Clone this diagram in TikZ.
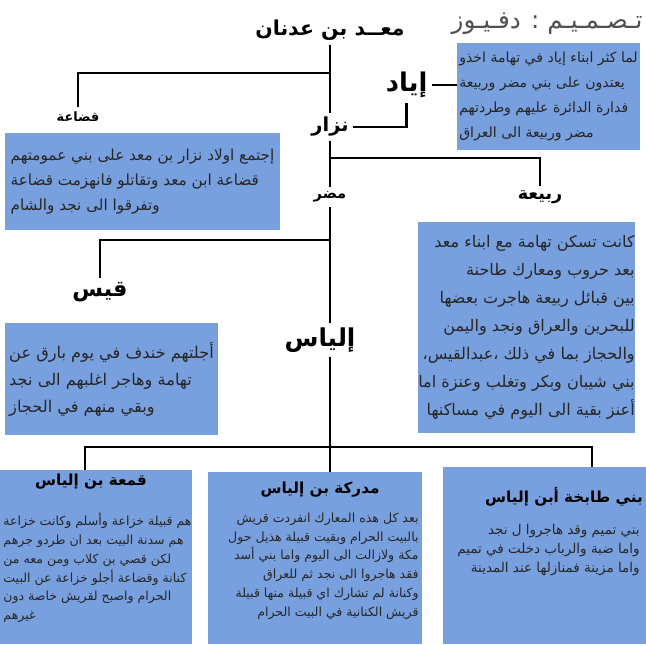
\documentclass[tikz,border=0pt]{standalone}
\usepackage{fontspec}
\newfontfamily\arabicfont[Script=Arabic]{DejaVu Sans}
\TeXXeTstate=1
\newcommand{\arl}[1]{\beginR #1\endR}
\definecolor{boxblue}{HTML}{78A0DE}
\definecolor{creditgray}{HTML}{505050}

\begin{document}
\begin{tikzpicture}[
  famline/.style={line width=2.4pt},
  kin/.style={font=\arabicfont\bfseries\fontsize{13}{15}\selectfont,inner sep=1pt,outer sep=3pt},
  kinbig/.style={kin,font=\arabicfont\bfseries\fontsize{21}{23}\selectfont},
  infobox/.style={fill=boxblue,align=left,inner sep=0pt,text=black!85,
    font=\arabicfont\fontsize{13}{21.3}\selectfont},
  tribebox/.style={fill=boxblue,inner sep=0pt},
  tribehead/.style={font=\arabicfont\bfseries\fontsize{13}{15}\selectfont,inner sep=1pt},
  tribetext/.style={inner sep=1pt,text=black!85,font=\arabicfont\fontsize{10.7}{16}\selectfont}
]
\useasboundingbox (0,0) rectangle (19.38,-19.32);

\node[kinbig,font=\arabicfont\bfseries\fontsize{17.5}{20}\selectfont] (maad) at (9.9,-0.9) {\arl{معــد بن عدنان}};
\node[font=\arabicfont\fontsize{21}{23}\selectfont,text=creditgray] (credit) at (16.41,-0.72)
  {\arl{تـصـمـيـم : دفـيـوز}};

\node[kin,font=\arabicfont\bfseries\fontsize{11}{13}\selectfont] (quda) at (2.34,-3.51) {\arl{قضاعة}};
\node[kin,font=\arabicfont\bfseries\fontsize{16.5}{18}\selectfont] (nizar) at (9.9,-3.81) {\arl{نزار}};
\node[kinbig,font=\arabicfont\bfseries\fontsize{22}{24}\selectfont] (iyad) at (12.2,-2.55) {\arl{إياد}};
\node[kin,font=\arabicfont\bfseries\fontsize{12.5}{14}\selectfont] (mudar) at (9.9,-5.91) {\arl{مضر}};
\node[kin,font=\arabicfont\bfseries\fontsize{15}{17}\selectfont] (rabia) at (16.2,-5.91) {\arl{ربيعة}};
\node[kinbig,font=\arabicfont\bfseries\fontsize{19}{21}\selectfont] (qays) at (3.0,-8.76) {\arl{قيس}};
\node[kinbig] (ilyas) at (9.6,-10.2) {\arl{إلياس}};

\node[infobox,minimum width=5.49cm,minimum height=3.21cm,
  font=\arabicfont\fontsize{12}{21.3}\selectfont] (iyadbox) at (16.455,-2.895)
  {\arl{لما كثر ابناء إياد في تهامة اخذو}\\
   \arl{يعتدون على بني مضر وربيعة}\\
   \arl{فدارة الدائرة عليهم وطردتهم}\\
   \arl{مضر وربيعة الى العراق}};
\node[infobox,minimum width=8.25cm,minimum height=2.91cm] (qudabox) at (4.275,-5.445)
  {\arl{إجتمع اولاد نزار بن معد على بني عمومتهم}\\
   \arl{قضاعة ابن معد وتقاتلو فانهزمت قضاعة}\\
   \arl{وتفرقوا الى نجد والشام}};
\node[infobox,align=right,minimum width=6.39cm,minimum height=6.33cm,
  font=\arabicfont\fontsize{13.7}{24}\selectfont] (rabiabox) at (15.795,-9.825)
  {\arl{كانت تسكن تهامة مع ابناء معد}\\
   \arl{بعد حروب ومعارك طاحنة}\\
   \arl{بين قبائل ربيعة هاجرت بعضها}\\
   \arl{للبحرين والعراق ونجد واليمن}\\
   \arl{والحجاز بما في ذلك ،عبدالقيس،}\\
   \arl{بني شيبان وبكر وتغلب وعنزة اما}\\
   \arl{أعنز بقية الى اليوم في مساكنها}};
\node[infobox,minimum width=6.39cm,minimum height=3.36cm,
  font=\arabicfont\fontsize{13.8}{23}\selectfont] (qaysbox) at (3.345,-11.37)
  {\arl{أجلتهم خندف في يوم بارق عن}\\
   \arl{تهامة وهاجر اغلبهم الى نجد}\\
   \arl{وبقي منهم في الحجاز}};

\node[tribebox,minimum width=5.76cm,minimum height=5.22cm] (qamaabox) at (2.88,-16.71) {};
\node[tribebox,minimum width=6.42cm,minimum height=5.16cm] (mudrikabox) at (9.45,-16.74) {};
\node[tribebox,minimum width=6.09cm,minimum height=5.31cm] (tabikhabox) at (16.335,-16.665) {};

\node[tribehead] (qamaahead) at (2.73,-14.46) {\arl{قمعة بن إلياس}};
\node[tribehead] (mudrikahead) at (9.6,-14.7) {\arl{مدركة بن إلياس}};
\node[tribehead] (tabikhahead) at (16.92,-14.91) {\arl{بني طابخة أبن إلياس}};

\node[tribetext,align=left,anchor=west] (qamaatext) at (0.06,-17.04)
  {\arl{هم قبيلة خزاعة وأسلم وكانت خزاعة}\\
   \arl{هم سدنة البيت بعد ان طردو جرهم}\\
   \arl{لكن قصي بن كلاب  ومن معه من}\\
   \arl{كنانة وقضاعة أجلو خزاعة عن البيت}\\
   \arl{الحرام واصبح لقريش خاصة دون}\\
   \arl{غيرهم}};
\node[tribetext,align=right,anchor=east] (mudrikatext) at (12.6,-16.98)
  {\arl{بعد كل هذه المعارك انفردت قريش}\\
   \arl{بالبيت الحرام وبقيت قبيلة هذيل حول}\\
   \arl{مكة ولازالت الى اليوم واما بني أسد}\\
   \arl{فقد هاجروا الى نجد ثم للعراق}\\
   \arl{وكنانة لم تشارك اي قبيلة منها قبيلة}\\
   \arl{قريش الكنانية  في البيت الحرام}};
\node[tribetext,align=right,anchor=east,font=\arabicfont\fontsize{11.5}{16}\selectfont] (tabikhatext) at (19.23,-16.5)
  {\arl{بني تميم وقد هاجروا ل نجد}\\
   \arl{واما ضبة والرباب دخلت في  تميم}\\
   \arl{واما مزينة فمنازلها عند المدينة}};

\coordinate (jq) at (9.9,-2.19);
\coordinate (jr) at (9.9,-4.74);
\coordinate (jk) at (9.9,-7.2);
\coordinate (jb) at (9.9,-13.41);

\draw[famline] (maad.south) -- (nizar.north);
\draw[famline] (quda.north) |- (jq);
\draw[famline] (nizar.east) -| (iyad.south);
\draw[famline] (iyad.east) -- (iyad.east -| iyadbox.west);
\draw[famline] (nizar.south) -- (mudar.north);
\draw[famline] (jr) -| (rabia.north);
\draw[famline] (mudar.south) -- (mudar.south |- ilyas.north);
\draw[famline] (jk) -| (qays.north);
\draw[famline] (mudar.south |- ilyas.south) -- (jb);
\draw[famline] ([xshift=-0.33cm]qamaabox.north) |- (jb) -| ([xshift=1.425cm]tabikhabox.north);
\draw[famline] (jb) -- (jb |- mudrikabox.north);
\end{tikzpicture}
\end{document}
